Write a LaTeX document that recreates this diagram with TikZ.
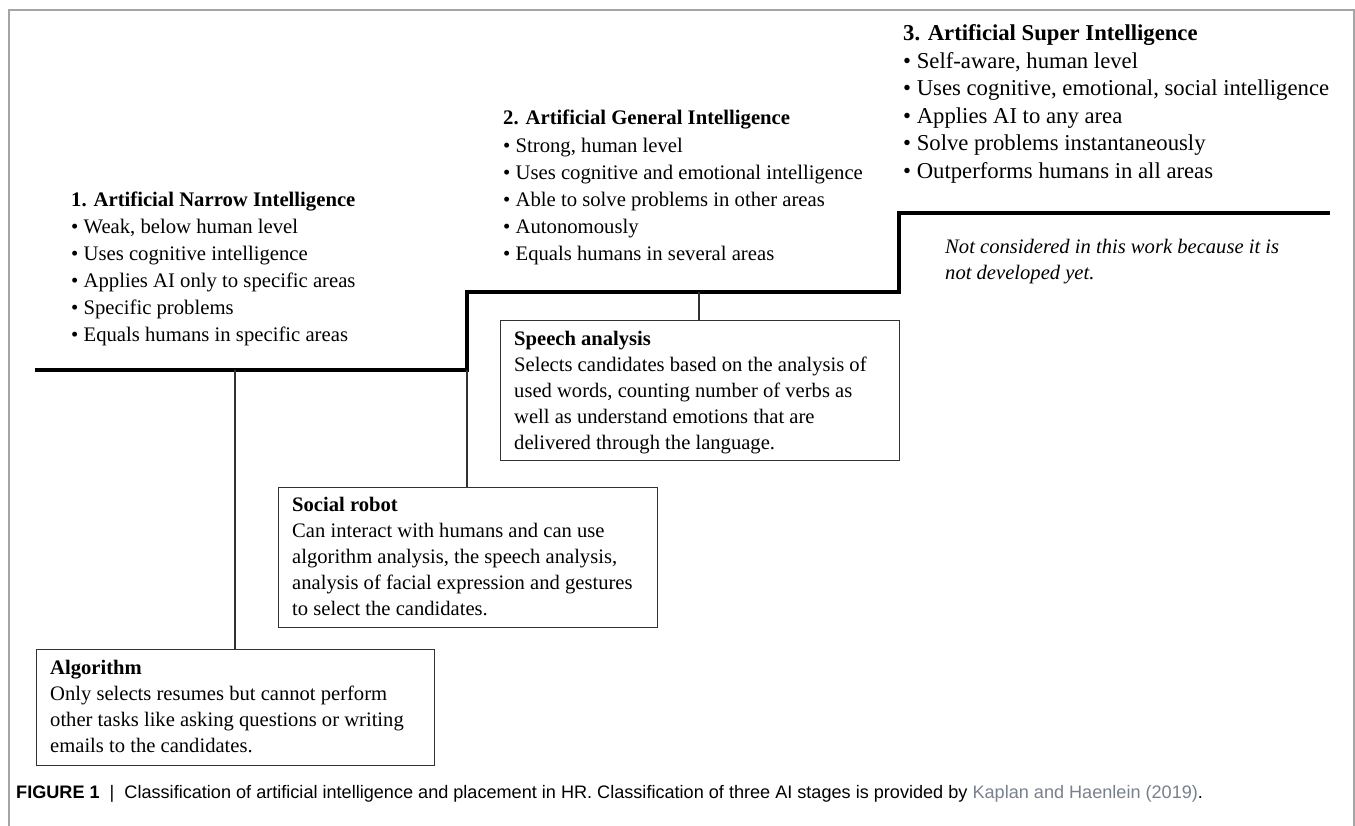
\documentclass[tikz,border=0pt]{standalone}
\usepackage{fontspec}
\setmainfont{Liberation Serif}
\newfontfamily\capfont{Liberation Sans}
\definecolor{linkc}{RGB}{120,128,140}
\definecolor{framec}{RGB}{165,165,165}
\definecolor{thinc}{RGB}{50,50,50}
\tikzset{
  stepline/.style={line width=3.6pt, line join=miter},
  conn/.style={line width=1.3pt, draw=thinc},
  boxstyle/.style={draw=thinc, line width=1.3pt, inner sep=0pt, anchor=north west},
  % anchor is the baseline of the LAST line of the node
  txt/.style={anchor=base west, inner sep=0pt, align=left, font=\fontsize{20.7}{27.1}\selectfont},
  bigtxt/.style={anchor=base west, inner sep=0pt, align=left, font=\fontsize{22.7}{27.6}\selectfont},
  boxtxt/.style={anchor=base west, inner sep=0pt, align=left, font=\fontsize{20.6}{26}\selectfont},
}
\begin{document}
\begin{tikzpicture}[x=1pt,y=-1pt]
\useasboundingbox (0,0) rectangle (1355,826);
% frame
\draw[framec, line width=1.3pt] (9,826) -- (9,10) -- (1354,10) -- (1354,826);
% step line
\coordinate (a0) at (35,370);
\coordinate (a1) at (467,370);
\coordinate (a2) at (467,292);
\coordinate (a3) at (899,292);
\coordinate (a4) at (899,213);
\coordinate (a5) at (1330,213);
\coordinate (t1) at (235,370);
\coordinate (t3) at (699,292);
\draw[stepline] (a0) -- (a1) -- (a2) -- (a3) -- (a4) -- (a5);
% stage texts
\node[txt] (ani) at (71,341.5) {\textbf{1. Artificial Narrow Intelligence}\\
\textbullet\ Weak, below human level\\
\textbullet\ Uses cognitive intelligence\\
\textbullet\ Applies AI only to specific areas\\
\textbullet\ Specific problems\\
\textbullet\ Equals humans in specific areas};
\node[txt] (agi) at (503,260.5) {\textbf{2. Artificial General Intelligence}\\
\textbullet\ Strong, human level\\
\textbullet\ Uses cognitive and emotional intelligence\\
\textbullet\ Able to solve problems in other areas\\
\textbullet\ Autonomously\\
\textbullet\ Equals humans in several areas};
\node[bigtxt] (asi) at (903,178.5) {\textbf{3. Artificial Super Intelligence}\\
\textbullet\ Self-aware, human level\\
\textbullet\ Uses cognitive, emotional, social intelligence\\
\textbullet\ Applies AI to any area\\
\textbullet\ Solve problems instantaneously\\
\textbullet\ Outperforms humans in all areas};
\node[boxtxt] (note) at (945,280) {\itshape Not considered in this work because it is\\
\itshape not developed yet.};
% boxes
\node[boxstyle, minimum width=399pt, minimum height=140pt] (spbox) at (500,320) {};
\node[boxtxt] (sptxt) at (514,449) {\textbf{Speech analysis}\\
Selects candidates based on the analysis of\\
used words, counting number of verbs as\\
well as understand emotions that are\\
delivered through the language.};
\node[boxstyle, minimum width=379pt, minimum height=140pt] (socbox) at (278,487) {};
\node[boxtxt] (soctxt) at (292,615) {\textbf{Social robot}\\
Can interact with humans and can use\\
algorithm analysis, the speech analysis,\\
analysis of facial expression and gestures\\
to select the candidates.};
\node[boxstyle, minimum width=398pt, minimum height=116pt] (algbox) at (36,649) {};
\node[boxtxt] (algtxt) at (50,752) {\textbf{Algorithm}\\
Only selects resumes but cannot perform\\
other tasks like asking questions or writing\\
emails to the candidates.};
% connectors
\draw[conn] (t1) -- (t1 |- algbox.north);
\draw[conn] (a1) -- (a1 |- socbox.north);
\draw[conn] (t3) -- (t3 |- spbox.north);
% caption
\node[anchor=base west, inner sep=0pt, font=\capfont\fontsize{18.1}{22}\selectfont] (cap) at (16,798)
{\textbf{FIGURE 1}\ \ |\ \ Classification of artificial intelligence and placement in HR. Classification of three AI stages is provided by \textcolor{linkc}{Kaplan and Haenlein (2019)}.};
\end{tikzpicture}
\end{document}
